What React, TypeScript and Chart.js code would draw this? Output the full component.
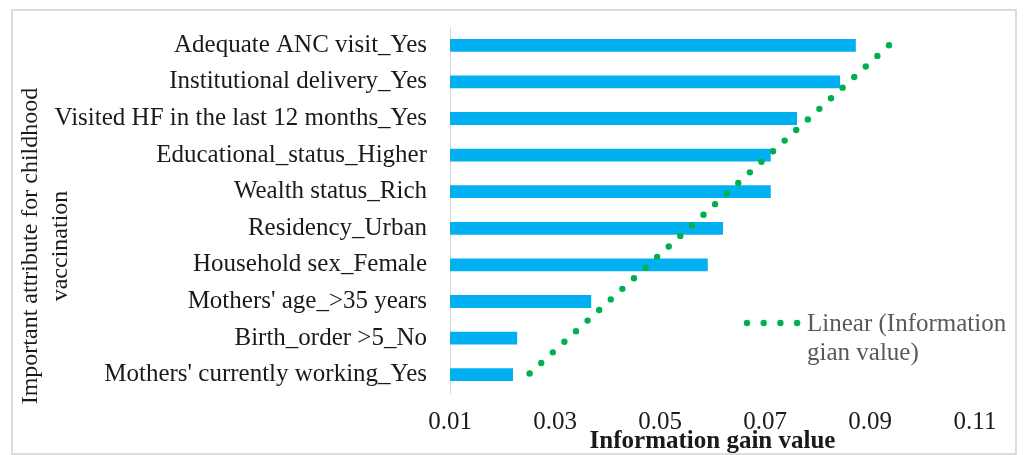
import React, { useEffect, useRef } from "react";
import { Chart, registerables } from "chart.js";

Chart.register(...registerables);

// Attributes, listed top to bottom as they appear on the category axis
const categories = [
  "Adequate ANC visit_Yes",
  "Institutional delivery_Yes",
  "Visited HF in the last 12 months_Yes",
  "Educational_status_Higher",
  "Wealth status_Rich",
  "Residency_Urban",
  "Household sex_Female",
  "Mothers' age_>35 years",
  "Birth_order >5_No",
  "Mothers' currently working_Yes",
];

// Information gain value of each attribute
const infoGain = [0.0873, 0.0843, 0.0761, 0.0711, 0.0711, 0.062, 0.0591, 0.0369, 0.0228, 0.022];

// Value axis ticks
const xTicks = [0.01, 0.03, 0.05, 0.07, 0.09, 0.11];

const yTitleLines = ["Important attribute for childhood", "vaccination"];
const xTitle = "Information gain value";
const legendLines = ["Linear (Information", "gian value)"];

const SERIF = '"Liberation Serif", "Times New Roman", Times, serif';
const BAR_BLUE = "#00B0F0";
const TREND_GREEN = "#00B050";

// Least-squares linear trendline over the category positions
function linearTrend(values: number[]): number[] {
  const n = values.length;
  const meanX = (n - 1) / 2;
  const meanY = values.reduce((a, b) => a + b, 0) / n;
  let sxy = 0;
  let sxx = 0;
  values.forEach((v, i) => {
    sxy += (i - meanX) * (v - meanY);
    sxx += (i - meanX) * (i - meanX);
  });
  const slope = sxy / sxx;
  const intercept = meanY - slope * meanX;
  return values.map((_, i) => intercept + slope * i);
}

const frameAndLabels = {
  id: "frameAndLabels",
  beforeDraw(chart: Chart) {
    const { ctx, width, height } = chart;
    ctx.save();
    ctx.fillStyle = "#ffffff";
    ctx.fillRect(0, 0, width, height);
    ctx.strokeStyle = "#dcdcdc";
    ctx.lineWidth = 2;
    ctx.strokeRect(12, 10, 1004, 444);
    ctx.restore();
  },
  afterDraw(chart: Chart) {
    const { ctx, chartArea } = chart;
    ctx.save();
    ctx.textBaseline = "middle";

    // value axis title
    ctx.fillStyle = "#1a1a1a";
    ctx.font = `bold 25px ${SERIF}`;
    ctx.textAlign = "center";
    ctx.fillText(xTitle, (chartArea.left + chartArea.right) / 2, 442);

    // category axis title, two rotated lines
    ctx.font = `24px ${SERIF}`;
    yTitleLines.forEach((line, i) => {
      ctx.save();
      ctx.translate(31 + i * 30, 246);
      ctx.rotate(-Math.PI / 2);
      ctx.fillText(line, 0, 0);
      ctx.restore();
    });

    // trendline legend entry
    ctx.fillStyle = TREND_GREEN;
    for (let k = 0; k < 4; k++) {
      ctx.beginPath();
      ctx.arc(747 + k * 16.7, 323, 3.2, 0, Math.PI * 2);
      ctx.fill();
    }
    ctx.fillStyle = "#595959";
    ctx.font = `25px ${SERIF}`;
    ctx.textAlign = "left";
    legendLines.forEach((line, i) => {
      ctx.fillText(line, 807, 324 + i * 29);
    });
    ctx.restore();
  },
};

export default function App() {
  const canvasRef = useRef<HTMLCanvasElement | null>(null);

  useEffect(() => {
    if (!canvasRef.current) return;
    const trend = linearTrend(infoGain);

    const chart = new Chart(canvasRef.current, {
      type: "bar",
      data: {
        labels: categories,
        datasets: [
          {
            type: "line",
            label: "Linear (Information gain value)",
            data: trend,
            indexAxis: "y",
            borderColor: TREND_GREEN,
            borderWidth: 6.4,
            borderDash: [0, 15.7],
            borderCapStyle: "round",
            pointRadius: 0,
            fill: false,
            tension: 0,
            order: 0,
          } as any,
          {
            type: "bar",
            label: "Information gain value",
            data: infoGain,
            backgroundColor: BAR_BLUE,
            borderWidth: 0,
            categoryPercentage: 1,
            barPercentage: 0.35,
            order: 1,
          },
        ],
      },
      options: {
        indexAxis: "y",
        animation: false,
        responsive: false,
        layout: { padding: { left: 0, right: 49, top: 27, bottom: 0 } },
        plugins: {
          legend: { display: false },
          tooltip: { enabled: false },
        },
        scales: {
          x: {
            type: "linear",
            min: xTicks[0],
            max: xTicks[xTicks.length - 1],
            afterBuildTicks(scale: any) {
              scale.ticks = xTicks.map((v) => ({ value: v }));
            },
            afterFit(scale: any) {
              scale.height = 62;
            },
            grid: { display: false },
            border: { display: false },
            ticks: {
              padding: 6,
              color: "#1a1a1a",
              font: { family: SERIF, size: 25 },
              callback: (v: any) => Number(v).toFixed(2),
            },
          },
          y: {
            type: "category",
            afterFit(scale: any) {
              scale.width = 450;
              scale.paddingTop = 0;
              scale.paddingBottom = 0;
            },
            grid: { display: false },
            border: { display: true, color: "#d9d9d9", width: 1 },
            ticks: {
              padding: 15,
              color: "#1a1a1a",
              font: { family: SERIF, size: 25 },
            },
          },
        },
      },
      plugins: [frameAndLabels],
    });

    return () => chart.destroy();
  }, []);

  return (
    <div style={{ position: "absolute", left: 0, top: 0, width: 1024, height: 455 }}>
      <canvas ref={canvasRef} width={1024} height={455} style={{ display: "block" }} />
    </div>
  );
}
